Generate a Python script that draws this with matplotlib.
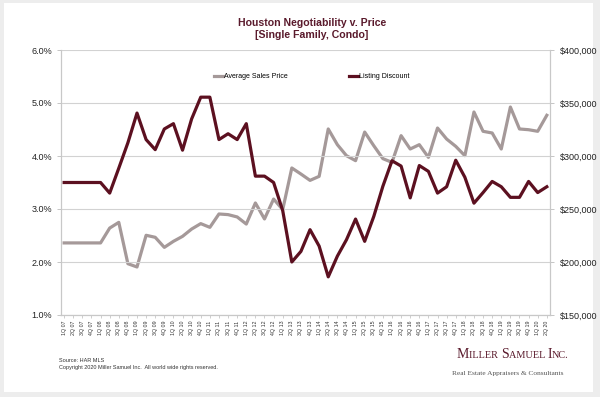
import matplotlib.pyplot as plt
from matplotlib.patches import Rectangle
from matplotlib.ticker import FuncFormatter
from matplotlib.offsetbox import TextArea, HPacker, AnchoredOffsetbox

plt.rcParams['font.family'] = ['Liberation Sans', 'DejaVu Sans']

quarters = []
for yr in range(7, 21):
    for q in range(1, 5):
        if yr == 20 and q > 2:
            break
        quarters.append('%dQ %02d' % (q, yr))

listing_discount = [3.5, 3.5, 3.5, 3.5, 3.5, 3.3, 3.77, 4.25, 4.81, 4.31,
                    4.12, 4.51, 4.61, 4.11, 4.70, 5.11, 5.11, 4.31, 4.42, 4.31,
                    4.61, 3.62, 3.62, 3.50, 2.97, 2.0, 2.2, 2.61, 2.30, 1.72,
                    2.11, 2.42, 2.81, 2.39, 2.86, 3.43, 3.91, 3.81, 3.21, 3.82,
                    3.71, 3.30, 3.42, 3.92, 3.60, 3.11, 3.31, 3.52, 3.42, 3.22,
                    3.22, 3.52, 3.31, 3.42]

avg_price = [218000, 218000, 218000, 218000, 218000, 232000, 237400, 198400, 195300, 225200,
             223300, 213800, 219500, 224200, 231100, 236200, 232700, 245300, 244700, 242500,
             235800, 255700, 240600, 259400, 249400, 288700, 283000, 277000, 280800, 325500,
             310700, 300300, 295600, 322600, 309700, 297500, 294000, 319200, 306600, 310700,
             298700, 326400, 316000, 309100, 300300, 341500, 323300, 321700, 306600, 346200,
             325500, 324800, 323300, 338400]

maroon = '#5c1020'
grey = '#a59999'
title_col = '#5a1a2c'

fig = plt.figure(figsize=(6.0, 3.97), dpi=100)
fig.patch.set_facecolor('#ededed')
# white card behind everything
card = Rectangle((4 / 600, 5 / 397), 589 / 600, 389 / 397, transform=fig.transFigure,
                 facecolor='white', edgecolor='none', zorder=-10)
fig.patches.append(card)

ax = fig.add_axes([60.5 / 600, 1 - 315 / 397, 489.5 / 600, 265 / 397])
ax.set_facecolor('none')
ax2 = ax.twinx()

x = list(range(len(quarters)))
ax2.plot(x, avg_price, color=grey, lw=2.3, label='Average Sales Price')
ax.plot(x, listing_discount, color=maroon, lw=2.3, label='Listing Discount')
ax.set_zorder(ax2.get_zorder() + 1)

ax.set_xlim(-0.4, 53.35)
ax.set_ylim(1.0, 6.0)
ax2.set_ylim(150000, 400000)
ax.set_yticks([1, 2, 3, 4, 5, 6])
ax2.set_yticks([150000, 200000, 250000, 300000, 350000, 400000])
ax.yaxis.set_major_formatter(FuncFormatter(lambda v, p: '%.1f%%' % v))
ax2.yaxis.set_major_formatter(FuncFormatter(lambda v, p: '${:,.0f}'.format(v)))

ax.set_xticks(x)
ax.set_xticklabels(quarters, rotation=90, fontsize=3.8, color='#333333')
ax.tick_params(axis='x', length=2, width=0.5, color='#bbbbbb', pad=2)
ax.tick_params(axis='y', labelsize=6.5, length=3, width=0.6, color='#bbbbbb', pad=3, labelcolor='#222222')
ax2.tick_params(axis='y', labelsize=6.5, length=3, width=0.6, color='#bbbbbb', pad=4, labelcolor='#222222')

ax.grid(axis='y', color='#d2d2d2', lw=0.8)
ax.set_axisbelow(True)
for a in (ax, ax2):
    a.spines['top'].set_visible(False)
    for s in ('left', 'right', 'bottom'):
        a.spines[s].set_color('#c8c8c8')
        a.spines[s].set_linewidth(0.8)

fig.text(312 / 600, 1 - 23 / 397, 'Houston Negotiability v. Price', ha='center', va='center',
         fontsize=7.6, fontweight='bold', color=title_col)
fig.text(312 / 600, 1 - 35 / 397, '[Single Family, Condo]', ha='center', va='center',
         fontsize=7.6, fontweight='bold', color=title_col)

h1, l1 = ax2.get_legend_handles_labels()
h2, l2 = ax.get_legend_handles_labels()
fig.legend(h1, l1, loc='center left', bbox_to_anchor=(208 / 600, 1 - 77 / 397),
           frameon=False, fontsize=5, handlelength=1.2, handletextpad=0.2)
fig.legend(h2, l2, loc='center left', bbox_to_anchor=(343 / 600, 1 - 77 / 397),
           frameon=False, fontsize=5, handlelength=1.2, handletextpad=0.2)

fig.text(59 / 600, 1 - 360 / 397, 'Source: HAR MLS', fontsize=4, color='#333333', va='center')
fig.text(59 / 600, 1 - 368 / 397, 'Copyright 2020 Miller Samuel Inc.  All world wide rights reserved.',
         fontsize=4, color='#333333', va='center')

# logo in small caps, built from big and small capitals
parts = [('M', 10), ('ILLER ', 7.4), ('S', 10), ('AMUEL ', 7.4), ('I', 10), ('NC.', 7.4)]
boxes = [TextArea(t, textprops=dict(family='Liberation Serif', size=s, color=title_col))
         for t, s in parts]
logo = HPacker(children=boxes, align='baseline', pad=0, sep=0)
fig.add_artist(AnchoredOffsetbox(loc='center left', child=logo, pad=0, frameon=False,
                                 bbox_to_anchor=(450 / 600, 1 - 355 / 397),
                                 bbox_transform=fig.transFigure))
fig.text(452 / 600, 1 - 373 / 397, 'Real Estate Appraisers & Consultants', family='Liberation Serif',
         fontsize=5.3, color='#555555', va='center')

plt.savefig('out.png', dpi=100, facecolor=fig.get_facecolor())
plt.close()
